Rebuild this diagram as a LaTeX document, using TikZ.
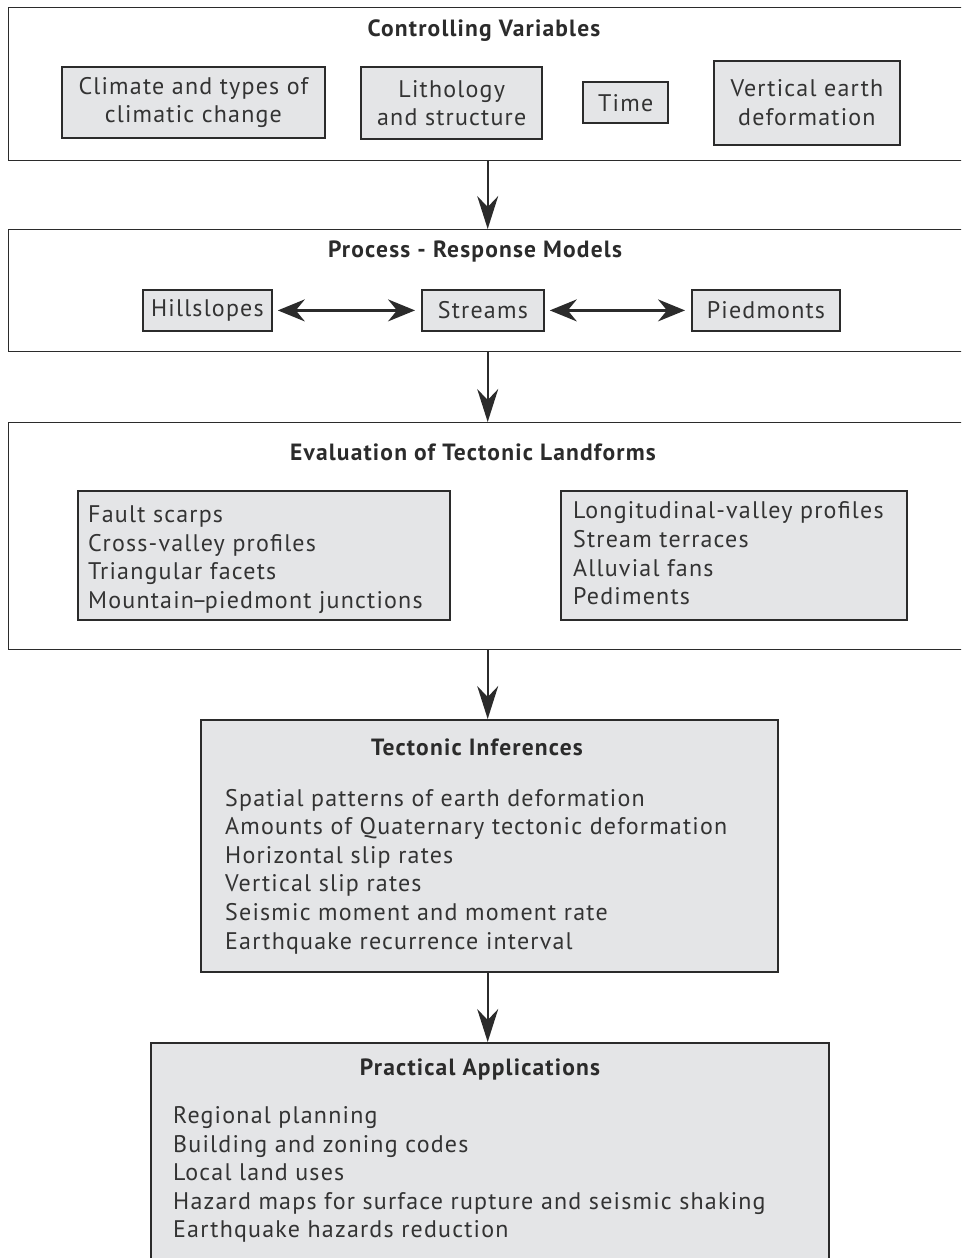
\documentclass[tikz,border=0pt]{standalone}
\usepackage{fontspec}
\setmainfont{PT Sans}[LetterSpace=5]
\usetikzlibrary{arrows.meta}
\definecolor{boxgray}{HTML}{E4E5E7}
\definecolor{ink}{HTML}{2B2B2B}
\definecolor{txt}{HTML}{333333}
\begin{document}
\begin{tikzpicture}[x=1pt,y=-1pt,
  frame/.style={draw=ink, line width=1.4pt, rectangle, anchor=north west, inner sep=0pt},
  graybox/.style={draw=ink, line width=1.8pt, fill=boxgray, rectangle, anchor=north west, inner sep=0pt},
  thickbox/.style={graybox, line width=2.4pt},
  body/.style={font=\fontsize{24}{28.6}\selectfont, text=txt},
  ttl/.style={font=\bfseries\fontsize{23.5}{26}\selectfont, text=ink, inner sep=0pt},
  vflow/.style={draw=ink, line width=1.8pt, -{Stealth[length=33pt, width=21pt, inset=11pt]}},
  hflow/.style={draw=ink, line width=2.2pt, {Stealth[length=27pt, width=22pt, inset=9pt]}-{Stealth[length=27pt, width=22pt, inset=9pt]}, shorten <=5pt, shorten >=6pt}
]
\useasboundingbox (0,0) rectangle (961,1258);
\clip (0,0) rectangle (961,1258);

% ---------- Box 1 ----------
\node[frame, minimum width=958pt, minimum height=153pt] (b1) at (8,7) {};
\node[ttl] (t1) at (484,31) {Controlling Variables};
\node[graybox, minimum width=263pt, minimum height=71pt, body, align=center] (cl) at (61,66) {Climate and types of\\climatic change};
\node[thickbox, minimum width=181pt, minimum height=72pt, body, align=center] (li) at (360,66) {Lithology\\and structure};
\node[thickbox, minimum width=85pt, minimum height=41pt, body] (ti) at (582,81) {Time};
\node[graybox, minimum width=186pt, minimum height=84pt, body, align=center] (ve) at (713,60) {Vertical earth\\deformation};

% ---------- Box 2 ----------
\node[frame, minimum width=958pt, minimum height=122pt] (b2) at (8,229) {};
\node[ttl] (t2) at (475,252) {Process - Response Models};
\node[graybox, minimum width=129pt, minimum height=41pt, body] (hi) at (142,289) {Hillslopes};
\node[graybox, minimum width=122pt, minimum height=41pt, body] (st) at (421,289) {Streams};
\node[graybox, minimum width=148pt, minimum height=41pt, body] (pi) at (691,289) {Piedmonts};
\draw[hflow] (hi) -- (st);
\draw[hflow] (st) -- (pi);

% ---------- Box 3 ----------
\node[frame, minimum width=958pt, minimum height=227pt] (b3) at (8,422) {};
\node[ttl] (t3) at (473,452) {Evaluation of Tectonic Landforms};
\node[graybox, minimum width=372pt, minimum height=129pt] (lg) at (77,490) {};
\node[body, anchor=west, align=left, inner sep=0pt] (lgt) at (88,559.5) {Fault scarps\\Cross-valley profiles\\Triangular facets\\Mountain\kern-2.5pt--\kern-2.5pt piedmont junctions};
\node[graybox, minimum width=346pt, minimum height=129pt] (rg) at (560,490) {};
\node[body, anchor=west, align=left, inner sep=0pt] (rgt) at (573,553.5) {Longitudinal-valley profiles\\Stream terraces\\Alluvial fans\\Pediments};

% ---------- Box 4 ----------
\node[graybox, minimum width=577pt, minimum height=252pt] (b4) at (200,719) {};
\node[ttl] (t4) at (477,747) {Tectonic Inferences};
\node[body, anchor=west, align=left, inner sep=0pt] (b4t) at (225,871.5) {Spatial patterns of earth deformation\\Amounts of Quaternary tectonic deformation\\Horizontal slip rates\\Vertical slip rates\\Seismic moment and moment rate\\Earthquake recurrence interval};

% ---------- Box 5 ----------
\node[graybox, minimum width=678pt, minimum height=240pt] (b5) at (150,1042) {};
\node[ttl] (t5) at (480,1069) {Practical Applications};
\node[body, anchor=west, align=left, inner sep=0pt] (b5t) at (173,1174.5) {Regional planning\\Building and zoning codes\\Local land uses\\Hazard maps for surface rupture and seismic shaking\\Earthquake hazards reduction};

% ---------- Flow arrows ----------
\draw[vflow] (b1.south) -- (b1.south |- b2.north);
\draw[vflow] (b2.south) -- (b2.south |- b3.north);
\draw[vflow] (b3.south) -- (b3.south |- b4.north);
\draw[vflow] (b3.south |- b4.south) -- (b3.south |- b5.north);
\end{tikzpicture}
\end{document}
